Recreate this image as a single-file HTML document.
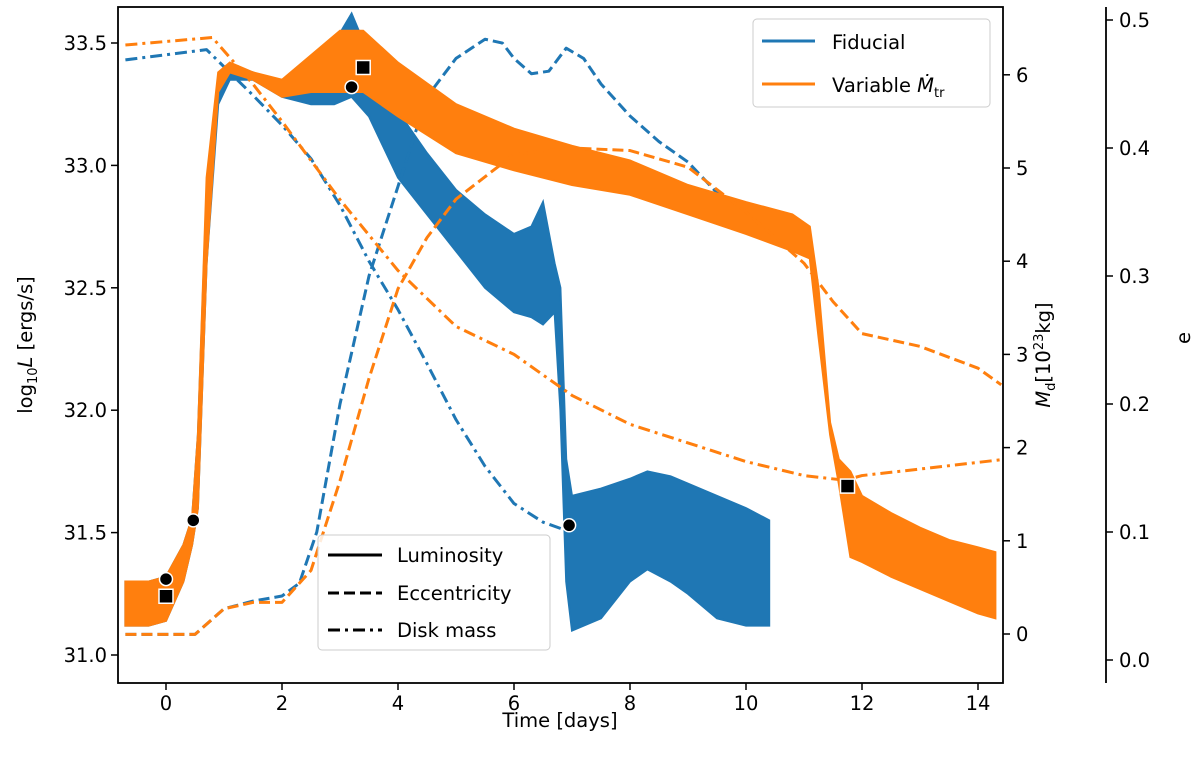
<!DOCTYPE html>
<html><head><meta charset="utf-8"><style>
body{margin:0;background:#fff;}
svg text{font-family:"DejaVu Sans","Liberation Sans",sans-serif;fill:#000;}
</style></head><body>
<svg id="c" width="1200" height="752" xmlns="http://www.w3.org/2000/svg"></svg>
<script>
const fidT=[-0.7,-0.3,0,0.3,0.45,0.55,0.7,0.9,1.1,1.5,2,2.5,2.9,3.2,3.5,4,4.5,5,5.5,6,6.3,6.5,6.7,6.8,6.9,7.0,7.5,8,8.3,8.7,9,9.5,10,10.4];
const fidLo=[31.12,31.12,31.14,31.3,31.45,31.6,32.6,33.25,33.35,33.35,33.28,33.25,33.25,33.28,33.2,32.95,32.8,32.65,32.5,32.4,32.38,32.35,32.4,32.0,31.3,31.1,31.15,31.3,31.35,31.3,31.25,31.15,31.12,31.12];
const fidHi=[31.3,31.3,31.32,31.45,31.56,31.9,32.9,33.35,33.4,33.38,33.33,33.38,33.5,33.62,33.45,33.22,33.05,32.9,32.8,32.72,32.75,32.85,32.6,32.5,31.8,31.65,31.68,31.72,31.75,31.73,31.7,31.65,31.6,31.55];
const varT=[-0.7,-0.3,0,0.3,0.45,0.55,0.7,0.9,1.1,1.5,2,2.5,3,3.4,4,5,6,7,8,9,10,10.8,11.1,11.25,11.45,11.6,11.8,12,12.5,13,13.5,14,14.3];
const varLo=[31.12,31.12,31.14,31.3,31.45,31.6,32.6,33.3,33.38,33.35,33.28,33.3,33.3,33.3,33.2,33.05,32.98,32.92,32.88,32.8,32.72,32.65,32.62,32.3,31.9,31.7,31.4,31.38,31.32,31.27,31.22,31.17,31.15];
const varHi=[31.3,31.3,31.32,31.45,31.56,31.9,32.95,33.38,33.42,33.38,33.35,33.45,33.55,33.55,33.42,33.25,33.15,33.08,33.02,32.92,32.85,32.8,32.75,32.5,31.95,31.8,31.75,31.65,31.58,31.52,31.47,31.44,31.42];
const eccFidT=[-0.7,0.5,1.0,1.5,2,2.3,2.6,3,3.5,4,4.5,5,5.5,5.8,6,6.3,6.6,6.9,7.2,7.5,8,8.5,9,9.5,10,10.4];
const eccFid=[0.02,0.02,0.04,0.046,0.05,0.06,0.1,0.2,0.3,0.37,0.44,0.47,0.485,0.482,0.47,0.458,0.46,0.478,0.47,0.45,0.425,0.405,0.389,0.365,0.346,0.33];
const eccVarT=[-0.7,0.5,1,1.5,2,2.5,3,3.5,4,4.5,5,6,7,8,9,10,11,11.5,12,13,14,14.4];
const eccVar=[0.02,0.02,0.04,0.045,0.045,0.07,0.14,0.22,0.29,0.33,0.36,0.395,0.4,0.398,0.385,0.35,0.31,0.28,0.255,0.245,0.228,0.215];
const mdFidT=[-0.7,0.7,1.5,2,2.5,3,3.5,4,4.5,5,5.5,6,6.5,6.95];
const mdFid=[6.16,6.27,5.78,5.46,5.1,4.6,4.0,3.48,2.9,2.3,1.8,1.4,1.2,1.1];
const mdVarT=[-0.7,0.8,1.5,2,3,4,5,6,7,8,9,10,11,11.7,12,13,14.4];
const mdVar=[6.32,6.4,5.9,5.5,4.66,3.9,3.3,3.0,2.56,2.25,2.05,1.85,1.7,1.65,1.7,1.77,1.87];
const circT=[0,0.47,3.2,6.95], circL=[31.31,31.55,33.32,31.53];
const sqT=[0,3.4,11.75], sqL=[31.24,33.40,31.69];
const xTicks=[0,2,4,6,8,10,12,14], lTicks=[31.0,31.5,32.0,32.5,33.0,33.5], mTicks=[0,1,2,3,4,5,6], eTicks=[0.0,0.1,0.2,0.3,0.4,0.5];

const X0=118,X1=1003,Y0=7,Y1=683;
const sx=t=>166+t*58, sL=v=>655-(v-31)*244.8, sM=v=>634-v*93.2, sE=v=>660-v*1280;
const svg=document.getElementById('c'),NS='http://www.w3.org/2000/svg';
function el(tag,attrs,parent){const e=document.createElementNS(NS,tag);for(const k in attrs)e.setAttribute(k,attrs[k]);(parent||svg).appendChild(e);return e;}
const blue='#1f77b4',orange='#ff7f0e';
const cp=el('clipPath',{id:'cp'});
el('rect',{x:X0,y:Y0,width:X1-X0,height:Y1-Y0},cp);
const g=el('g',{'clip-path':'url(#cp)'});
function band(T,lo,hi,col,name){
  let p=T.map((t,i)=>sx(t)+','+sL(hi[i]));
  for(let i=T.length-1;i>=0;i--)p.push(sx(T[i])+','+sL(lo[i]));
  const e=el('polygon',{points:p.join(' '),fill:col,stroke:col,'stroke-width':2},g);
  
  
}
function line(T,V,sy,col,dash,name){
  const e=el('polyline',{points:T.map((t,i)=>sx(t)+','+sy(V[i])).join(' '),fill:'none',stroke:col,'stroke-width':3,'stroke-dasharray':dash,'stroke-linejoin':'round'},g);
  
  
}
band(fidT,fidLo,fidHi,blue,'fiducial-luminosity');
line(eccFidT,eccFid,sE,blue,'11,5','fiducial-eccentricity');
line(mdFidT,mdFid,sM,blue,'12,5,3,5','fiducial-disk-mass');
band(varT,varLo,varHi,orange,'variable-luminosity');
line(eccVarT,eccVar,sE,orange,'11,5','variable-eccentricity');
line(mdVarT,mdVar,sM,orange,'12,5,3,5','variable-disk-mass');
circT.forEach((t,i)=>{const c=el('circle',{cx:sx(t),cy:sL(circL[i]),r:6.5,fill:'#000',stroke:'#fff','stroke-width':1.5});

});
sqT.forEach((t,i)=>{const c=el('rect',{x:sx(t)-7,y:sL(sqL[i])-7,width:14,height:14,fill:'#000',stroke:'#fff','stroke-width':1.5});

});
const fr=el('rect',{x:X0,y:Y0,width:X1-X0,height:Y1-Y0,fill:'none',stroke:'#000','stroke-width':1.8});

el('line',{x1:1106,y1:Y0,x2:1106,y2:Y1,stroke:'#000','stroke-width':1.8});
const fs=19.5;
xTicks.forEach(v=>{el('line',{x1:sx(v),y1:Y1,x2:sx(v),y2:Y1+7,stroke:'#000','stroke-width':1.5});const t=el('text',{x:sx(v),y:Y1+27,'text-anchor':'middle','font-size':fs});t.textContent=v;});
lTicks.forEach(v=>{el('line',{x1:X0,y1:sL(v),x2:X0-7,y2:sL(v),stroke:'#000','stroke-width':1.5});const t=el('text',{x:X0-11,y:sL(v)+7,'text-anchor':'end','font-size':fs});t.textContent=v.toFixed(1);});
mTicks.forEach(v=>{el('line',{x1:X1,y1:sM(v),x2:X1+7,y2:sM(v),stroke:'#000','stroke-width':1.5});const t=el('text',{x:X1+13,y:sM(v)+7,'font-size':fs});t.textContent=v;});
eTicks.forEach(v=>{el('line',{x1:1106,y1:sE(v),x2:1113,y2:sE(v),stroke:'#000','stroke-width':1.5});const t=el('text',{x:1119,y:sE(v)+7,'font-size':fs});t.textContent=v.toFixed(1);});
</script>
<svg width="1200" height="752" style="position:absolute;left:0;top:0" xmlns="http://www.w3.org/2000/svg">
<text x="560" y="727" text-anchor="middle" font-size="19.5">Time [days]</text>
<text transform="translate(32,345) rotate(-90)" text-anchor="middle" font-size="19.5">log<tspan font-size="13" dy="5">10</tspan><tspan dy="-5" font-style="italic">L</tspan> [ergs/s]</text>
<text transform="translate(1050,355) rotate(-90)" text-anchor="middle" font-size="19.5"><tspan font-style="italic">M</tspan><tspan font-size="13" dy="5">d</tspan><tspan dy="-5">[10</tspan><tspan font-size="13" dy="-7">23</tspan><tspan dy="7">kg]</tspan></text>
<text transform="translate(1190,338) rotate(-90)" text-anchor="middle" font-size="19.5">e</text>
<g>
<rect x="753" y="19" width="237" height="88" rx="4" fill="#fff" fill-opacity="0.85" stroke="#ccc"/>
<line x1="762" y1="41" x2="815" y2="41" stroke="#1f77b4" stroke-width="3"/>
<text x="832" y="49" font-size="19.5">Fiducial</text>
<line x1="762" y1="84" x2="815" y2="84" stroke="#ff7f0e" stroke-width="3"/>
<text x="832" y="92" font-size="19.5">Variable <tspan font-style="italic">Ṁ</tspan><tspan font-size="13" dy="5">tr</tspan></text>
</g>
<g>
<rect x="318" y="535" width="232" height="115" rx="4" fill="#fff" fill-opacity="0.85" stroke="#ccc"/>
<line x1="328" y1="555" x2="382" y2="555" stroke="#000" stroke-width="3"/>
<text x="397" y="562" font-size="19.5">Luminosity</text>
<line x1="328" y1="593" x2="382" y2="593" stroke="#000" stroke-width="3" stroke-dasharray="11,5"/>
<text x="397" y="600" font-size="19.5">Eccentricity</text>
<line x1="328" y1="630" x2="382" y2="630" stroke="#000" stroke-width="3" stroke-dasharray="12,5,3,5"/>
<text x="397" y="637" font-size="19.5">Disk mass</text>
</g>
</svg>
</body></html>
